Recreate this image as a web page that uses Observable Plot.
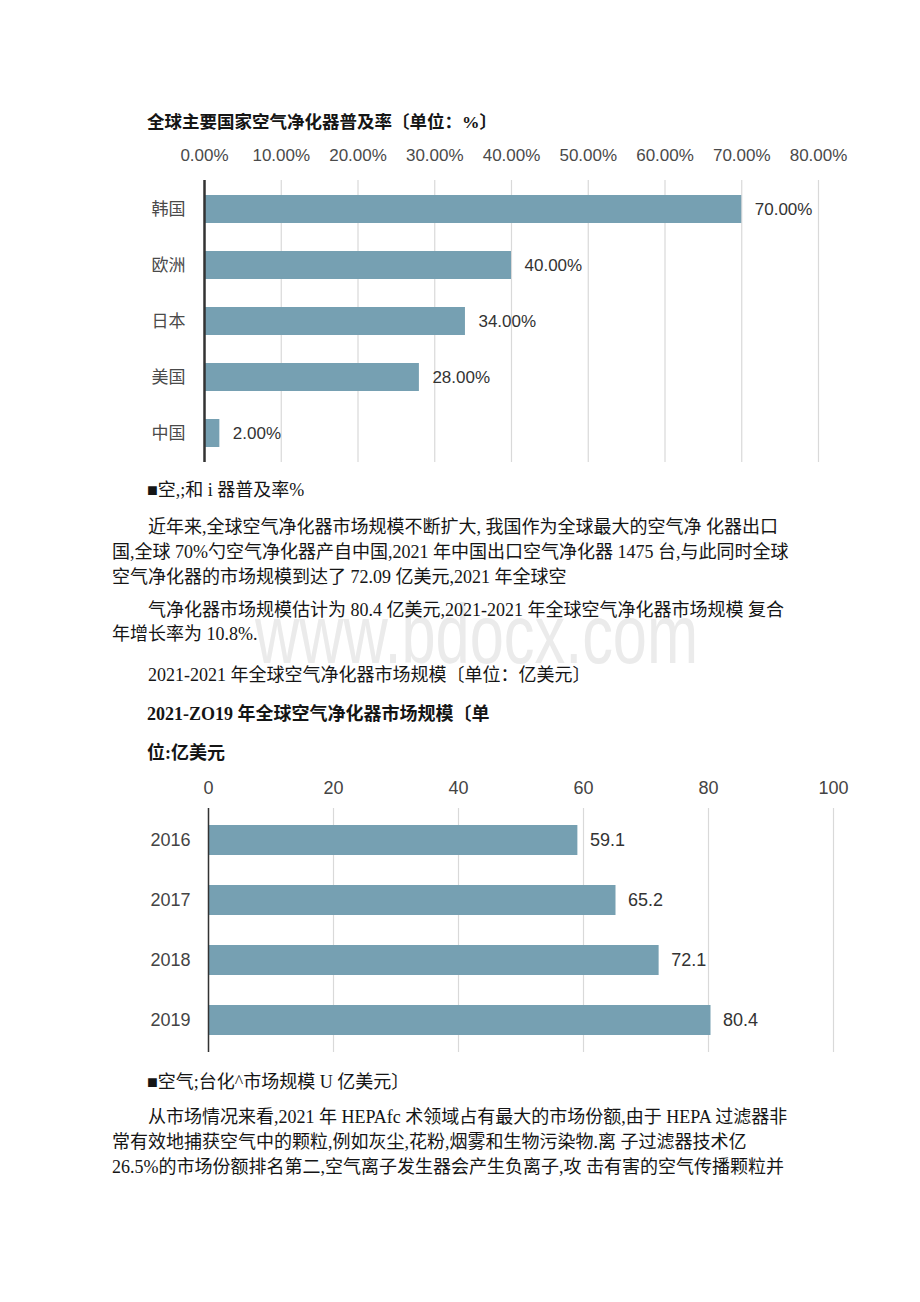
<!DOCTYPE html>
<html>
<head>
<meta charset="utf-8">
<script src="https://cdn.jsdelivr.net/npm/d3@7"></script>
<script src="https://cdn.jsdelivr.net/npm/@observablehq/plot@0.6"></script>
<style>
  html, body { margin: 0; padding: 0; background: #fff; }
  body { width: 920px; height: 1302px; position: relative; overflow: hidden; }
  .t { position: absolute; white-space: pre; color: #151515; font-family: "Liberation Serif", "Noto Sans CJK SC", serif; font-size: 18px; line-height: 24px; z-index: 2; }
  .b { font-weight: bold; }
  .wm { position: absolute; left: 255px; top: 587px; font-family: "Liberation Sans", Arial, sans-serif; font-size: 84px; line-height: 94px; color: #ebebeb; transform: scaleX(0.73); transform-origin: left top; white-space: pre; z-index: 1; }
  .chart { position: absolute; left: 0; z-index: 2; }
</style>
</head>
<body>
<div class="wm">www.bdocx.com</div>

<div class="t b" style="left:147px; top:110px; font-size:17.5px;">全球主要国家空气净化器普及率〔单位：%〕</div>
<div id="c1" class="chart" style="top:140px;"></div>

<div class="t" style="left:147px; top:478px;">■空,;和 i 器普及率%</div>
<div class="t" style="left:148px; top:515px;">近年来,全球空气净化器市场规模不断扩大, 我国作为全球最大的空气净 化器出口</div>
<div class="t" style="left:112px; top:540px;">国,全球 70%勺空气净化器产自中国,2021 年中国出口空气净化器 1475 台,与此同时全球</div>
<div class="t" style="left:112px; top:565px;">空气净化器的市场规模到达了 72.09 亿美元,2021 年全球空</div>
<div class="t" style="left:148px; top:598px;">气净化器市场规模估计为 80.4 亿美元,2021-2021 年全球空气净化器市场规模 复合</div>
<div class="t" style="left:112px; top:622px;">年增长率为 10.8%.</div>
<div class="t" style="left:148px; top:663px;">2021-2021 年全球空气净化器市场规模〔单位：亿美元〕</div>
<div class="t b" style="left:147px; top:702px;">2021-ZO19 年全球空气净化器市场规模〔单</div>
<div class="t b" style="left:147px; top:741px;">位:亿美元</div>
<div id="c2" class="chart" style="top:760px;"></div>

<div class="t" style="left:147px; top:1070px;">■空气;台化^市场规模 U 亿美元〕</div>
<div class="t" style="left:148px; top:1105px;">从市场情况来看,2021 年 HEPAfc 术领域占有最大的市场份额,由于 HEPA 过滤器非</div>
<div class="t" style="left:112px; top:1130px;">常有效地捕获空气中的颗粒,例如灰尘,花粉,烟雾和生物污染物.离 子过滤器技术亿</div>
<div class="t" style="left:112px; top:1155px;">26.5%的市场份额排名第二,空气离子发生器会产生负离子,攻 击有害的空气传播颗粒并</div>

<script>
// ---- Chart 1 data ----
const countries = ["韩国", "欧洲", "日本", "美国", "中国"];
const rates = [70, 40, 34, 28, 2];
const rateTicks = [0, 10, 20, 30, 40, 50, 60, 70, 80];

// ---- Chart 2 data ----
const years = ["2016", "2017", "2018", "2019"];
const marketSize = [59.1, 65.2, 72.1, 80.4];
const sizeTicks = [0, 20, 40, 60, 80, 100];

const barColor = "#76a0b2";
const fontStack = "'Liberation Sans', Arial, 'Noto Sans CJK SC', sans-serif";

const d1 = countries.map((c, i) => ({c, v: rates[i]}));
const chart1 = Plot.plot({
  width: 920, height: 330,
  marginLeft: 204, marginRight: 102, marginTop: 40, marginBottom: 8,
  style: {fontFamily: fontStack, fontSize: "17px", color: "#4a4a4a", background: "transparent"},
  x: {domain: [0, 80], ticks: rateTicks, tickFormat: d => d.toFixed(2) + "%", axis: "top", label: null, tickSize: 0, tickPadding: 20},
  y: {domain: countries, paddingInner: 0.5, paddingOuter: 0.23, label: null, tickSize: 0, tickPadding: 19},
  marks: [
    Plot.ruleX(rateTicks, {stroke: "#d9d9d9", strokeWidth: 1.2}),
    Plot.barX(d1, {x: "v", y: "c", fill: barColor}),
    Plot.text(d1, {x: "v", y: "c", text: d => d.v.toFixed(2) + "%", dx: 13, textAnchor: "start", fill: "#333", fontSize: 17}),
    Plot.ruleX([0], {stroke: "#333", strokeWidth: 2.5})
  ]
});
document.getElementById("c1").appendChild(chart1);

const d2 = years.map((y, i) => ({y, v: marketSize[i]}));
const chart2 = Plot.plot({
  width: 920, height: 300,
  marginLeft: 208, marginRight: 87, marginTop: 48, marginBottom: 8,
  style: {fontFamily: fontStack, fontSize: "18px", color: "#444", background: "transparent"},
  x: {domain: [0, 100], ticks: sizeTicks, axis: "top", label: null, tickSize: 0, tickPadding: 15},
  y: {domain: years, paddingInner: 0.5, paddingOuter: 0.26, label: null, tickSize: 0, tickPadding: 18},
  marks: [
    Plot.ruleX(sizeTicks, {stroke: "#d9d9d9", strokeWidth: 1.2}),
    Plot.barX(d2, {x: "v", y: "y", fill: barColor}),
    Plot.text(d2, {x: "v", y: "y", text: d => d.v.toFixed(1), dx: 12, textAnchor: "start", fill: "#333", fontSize: 18}),
    Plot.ruleX([0], {stroke: "#333", strokeWidth: 1.5})
  ]
});
document.getElementById("c2").appendChild(chart2);
</script>
</body>
</html>
